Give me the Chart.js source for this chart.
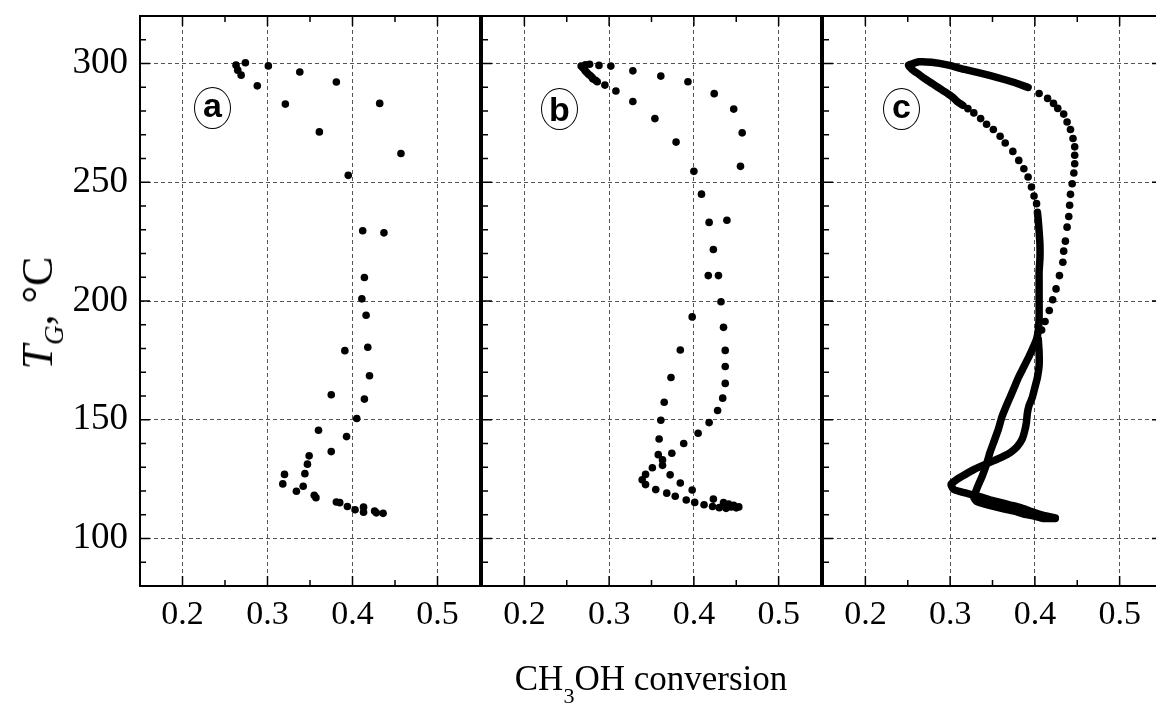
<!DOCTYPE html>
<html><head><meta charset="utf-8">
<script src="https://cdn.jsdelivr.net/npm/chart.js@4.4.0/dist/chart.umd.min.js"></script>
<style>
html,body{margin:0;padding:0;background:#fff;width:1156px;height:706px;overflow:hidden;position:relative;}
canvas{position:absolute;top:0;}
.lbl{position:absolute;width:37px;height:42px;border:1.3px solid #000;border-radius:50%;box-sizing:border-box;font:bold 34px "Liberation Sans",Arial,sans-serif;display:flex;align-items:center;justify-content:center;line-height:1;color:#000;}
.lo{padding-bottom:6px;}
#xtitle{position:absolute;left:451px;width:400px;top:661px;text-align:center;font:35px "Liberation Serif","Times New Roman",serif;line-height:35px;white-space:nowrap;color:#000;}
#xtitle span{font-size:22px;vertical-align:-13px;line-height:0;}
#ytitle{position:absolute;left:38px;top:313px;transform:translate(-50%,-50%) rotate(-90deg);font:44px "Liberation Serif","Times New Roman",serif;white-space:nowrap;line-height:44px;color:#000;}
#ytitle span{font-size:27px;font-style:italic;vertical-align:-11px;line-height:0;}
</style></head>
<body>
<canvas id="ca" width="484" height="706" style="left:0px"></canvas>
<canvas id="cb" width="347" height="706" style="left:478px"></canvas>
<canvas id="cc" width="347" height="706" style="left:819px"></canvas>
<div class="lbl lo" style="left:194px;top:87px">a</div>
<div class="lbl" style="left:541px;top:88px">b</div>
<div class="lbl lo" style="left:883px;top:88px">c</div>
<div id="xtitle">CH<span>3</span>OH conversion</div>
<div id="ytitle"><i>T</i><span>G</span>, °C</div>
<script>
// ---- tick labels ----
const xTicks = [0.2, 0.3, 0.4, 0.5];
const xTickLabels = ['0.2', '0.3', '0.4', '0.5'];
const xMinor = [0.25, 0.35, 0.45];
const yTicks = [100, 150, 200, 250, 300];
const yTickLabels = ['100', '150', '200', '250', '300'];
const yMinor = [90, 110, 120, 130, 140, 160, 170, 180, 190, 210, 220, 230, 240, 260, 270, 280, 290, 310];

// ---- panel a ----
const aConv = [0.263,0.265,0.269,0.274,0.301,0.338,0.381,0.288,0.321,0.432,0.361,0.457,0.395,
  0.412,0.437,0.414,0.411,0.416,0.391,0.418,0.420,0.375,0.414,0.405,0.360,0.393,0.375,0.349,0.347,0.344,
  0.320,0.318,0.342,0.334,0.355,0.357,0.381,0.385,0.394,0.403,0.413,0.413,0.426,0.428,0.436];
const aTemp = [299.3,297.2,295.1,300.3,299.0,296.4,292.2,290.6,282.9,283.2,271.2,262.1,252.9,
  229.6,228.7,209.9,200.9,194.0,179.1,180.5,168.5,160.5,158.7,150.5,145.6,142.9,136.6,134.8,131.3,127.3,
  127.0,123.0,122.0,119.9,118.2,117.2,115.4,115.1,113.5,112.1,113.2,111.1,111.6,110.8,110.6];

// ---- panel b ----
const bConv = [0.267,0.269,0.271,0.272,0.274,0.276,0.278,0.280,0.281,0.284,0.286,0.272,0.277,0.288,0.302,
  0.295,0.308,0.328,0.328,0.354,0.361,0.379,0.393,0.424,0.447,0.457,0.455,
  0.400,0.409,0.418,0.439,0.423,0.417,0.429,0.432,0.398,0.435,0.384,0.437,0.437,0.373,0.437,0.434,0.365,
  0.428,0.361,0.418,0.405,0.359,0.388,0.358,0.374,0.363,0.363,0.351,0.343,0.372,0.339,0.343,0.384,0.355,
  0.398,0.368,0.378,0.391,0.401,0.412,0.422,0.423,0.430,0.435,0.438,0.441,0.444,0.447,0.450,0.453];
const bTemp = [298.9,298.2,297.5,296.8,296.1,295.4,294.8,294.1,293.5,292.9,292.3,299.5,299.7,299.2,298.9,
  290.9,288.4,296.9,284.0,276.8,294.7,266.9,292.3,287.3,280.8,270.8,256.7,
  254.6,245.0,233.1,234.0,221.7,210.7,210.7,199.7,193.3,188.9,179.4,179.2,172.4,167.8,165.3,159.1,157.4,
  153.9,149.8,148.8,144.3,141.9,140.0,135.3,135.9,133.1,130.8,129.8,127.0,126.8,124.7,122.7,123.4,120.6,
  120.4,119.1,117.8,116.2,115.2,114.2,113.5,116.6,113.0,115.1,112.7,114.5,113.3,114.0,112.9,113.3];

// ---- panel c: dense trace segments and sparse dots ----
const cTrace1Conv = [0.424,0.410,0.398,0.386,0.375,0.363,0.351,0.340,0.331,0.328,0.332,0.338,0.343,0.347,0.352,
  0.357,0.361,0.366,0.371,0.376,0.381,0.387,0.393,0.398,0.402,0.404,0.405,0.405,0.405,0.405,0.406,0.406,0.405,0.404,0.403];
const cTrace1Temp = [108.4,108.4,109.5,110.4,111.6,112.5,113.5,114.6,115.7,117.2,121.4,126.4,131.3,136.2,141.1,
  146.1,151.1,155.6,159.7,163.9,168.1,172.3,176.6,180.5,184.0,187.5,193.1,200.2,206.8,212.4,218.0,223.7,229.4,233.9,237.4];
const cDots1Conv = [0.402,0.399,0.396,0.392,0.387,0.381,0.374,0.365,0.359,0.351,0.343,0.336,0.328,0.321];
const cDots1Temp = [241.0,244.2,248.0,252.2,255.7,259.2,263.0,266.5,269.4,272.2,274.4,276.8,279.2,281.0];
const cTrace2Conv = [0.315,0.309,0.304,0.298,0.292,0.286,0.280,0.274,0.268,0.263,0.257,0.252,0.251,0.263,0.278,
  0.298,0.317,0.337,0.356,0.376,0.392];
const cTrace2Temp = [282.4,283.8,285.5,287.1,288.5,289.9,291.3,292.7,294.1,295.5,296.9,298.6,299.3,300.7,300.5,
  299.3,297.5,295.8,294.1,292.0,289.9];
const cDots2Conv = [0.405,0.415,0.422,0.427,0.434,0.438,0.442,0.445,0.447,0.447,0.447,0.446,0.444,0.442,0.441,
  0.440,0.438,0.436,0.434,0.433,0.429,0.425,0.421,0.417,0.412,0.408];
const cDots2Temp = [287.4,285.3,283.2,281.1,278.7,275.4,272.2,268.4,264.9,261.4,257.8,253.9,249.4,244.9,240.3,
  235.6,231.1,225.2,221.0,216.3,210.7,205.1,200.5,196.0,191.4,187.8];
const cTrace3Conv = [0.404,0.405,0.405,0.403,0.400,0.397,0.393,0.391,0.390,0.388,0.385,0.379,0.371,0.361,0.351,
  0.340,0.329,0.318,0.308,0.301,0.304,0.312,0.324,0.336,0.347,0.359,0.371,0.383,0.394,0.406,0.416,0.424];
const cTrace3Temp = [184.0,178.4,172.7,167.8,163.6,159.4,155.9,152.4,148.8,145.3,141.8,138.6,136.2,134.3,132.7,
  131.0,129.2,127.0,124.9,122.8,120.7,119.7,118.6,117.5,116.3,115.2,114.1,113.0,111.6,110.2,109.3,108.7];

const pts = (xs, ys) => xs.map((v, i) => ({x: v, y: ys[i]}));
const dots = (xs, ys) => ({data: pts(xs, ys), pointRadius: 3.8, pointBackgroundColor: '#000', pointBorderWidth: 0, showLine: false});
const trace = (xs, ys) => ({data: pts(xs, ys), pointRadius: 0, showLine: true, borderColor: '#000', borderWidth: 7.5,
  borderCapStyle: 'round', borderJoinStyle: 'round', tension: 0.12});

const framePlugin = {
  id: 'frameTicks',
  afterDraw(chart, args, opts) {
    const {ctx, chartArea: a, scales: {x, y}} = chart;
    ctx.save();
    ctx.strokeStyle = '#000';
    ctx.lineWidth = 1.5;
    ctx.beginPath();
    const xt = (v, len) => { const p = x.getPixelForValue(v);
      ctx.moveTo(p, a.bottom); ctx.lineTo(p, a.bottom - len);
      ctx.moveTo(p, a.top); ctx.lineTo(p, a.top + len); };
    const yt = (v, len) => { const p = y.getPixelForValue(v);
      ctx.moveTo(a.left, p); ctx.lineTo(a.left + len, p);
      if (opts.right) { ctx.moveTo(a.right, p); ctx.lineTo(a.right - len, p); } };
    xTicks.forEach(v => xt(v, 10)); xMinor.forEach(v => xt(v, 6));
    yTicks.forEach(v => yt(v, 10)); yMinor.forEach(v => yt(v, 6));
    ctx.stroke();
    ctx.lineWidth = 2;
    ctx.strokeRect(a.left, a.top, a.right - a.left, a.bottom - a.top);
    ctx.restore();
  }
};

function makeChart(id, datasets, showY, right, padL, padR) {
  return new Chart(document.getElementById(id), {
    type: 'scatter',
    data: {datasets},
    options: {
      responsive: false, animation: false,
      layout: {padding: {top: 16, left: padL, right: padR, bottom: 0}},
      plugins: {legend: {display: false}, tooltip: {enabled: false}, frameTicks: {right}},
      scales: {
        x: {type: 'linear', min: 0.15, max: 0.55,
          afterBuildTicks: s => { s.ticks = xTicks.map(v => ({value: v})); },
          afterFit: s => { s.height = 120; s.paddingLeft = 0; s.paddingRight = 0; },
          grid: {color: '#555', lineWidth: 1, drawTicks: false},
          border: {display: false, dash: [4, 3]},
          ticks: {padding: 9, color: '#000', maxRotation: 0, autoSkip: false,
            font: {family: 'Liberation Serif', size: 34},
            callback: (v, i) => xTickLabels[i]}},
        y: {type: 'linear', min: 80, max: 320,
          afterBuildTicks: s => { s.ticks = yTicks.map(v => ({value: v})); },
          afterFit: s => { s.width = showY ? 140 : 0; s.paddingTop = 0; s.paddingBottom = 0; },
          grid: {color: '#555', lineWidth: 1, drawTicks: false},
          border: {display: false, dash: [4, 3]},
          ticks: {display: showY, padding: 12, color: '#000',
            font: {family: 'Liberation Serif', size: 37},
            callback: (v, i) => yTickLabels[i]}}
      }
    },
    plugins: [framePlugin]
  });
}

makeChart('ca', [dots(aConv, aTemp)], true, false, 0, 3);
makeChart('cb', [dots(bConv, bTemp)], false, false, 3, 3);
makeChart('cc', [trace(cTrace1Conv, cTrace1Temp), trace(cTrace2Conv, cTrace2Temp), trace(cTrace3Conv, cTrace3Temp),
  dots(cDots1Conv, cDots1Temp), dots(cDots2Conv, cDots2Temp)], false, true, 3, 3);
</script>
</body></html>
